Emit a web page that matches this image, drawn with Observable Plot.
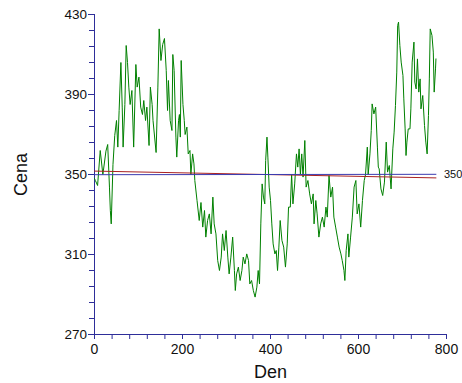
<!DOCTYPE html>
<html><head><meta charset="utf-8">
<script src="https://cdn.jsdelivr.net/npm/d3@7"></script>
<script src="https://cdn.jsdelivr.net/npm/@observablehq/plot@0.6"></script>
<style>body{margin:0;background:#fff}</style>
</head><body><div id="chart"></div>
<script>
const days = [0,2,7,13,19,26,30,34,36,38,42,46,50,53,56,60,63,65,69,72,75,78,81,85,89,94,97,101,105,109,112,116,119,124,127,131,133,140,144,147,151,155,159,163,166,168,172,176,178,181,185,187,191,193,195,197,201,204,206,210,213,217,219,223,226,228,233,238,242,246,250,253,257,261,265,269,272,276,280,284,288,291,295,299,303,306,310,314,318,320,323,327,331,335,338,342,346,350,353,357,361,365,369,372,375,378,381,384,387,389,392,394,397,400,403,406,410,413,416,419,422,426,430,434,438,441,445,448,451,455,459,462,465,468,471,474,478,481,485,489,493,497,499,503,506,510,514,518,522,526,529,533,537,541,544,548,552,556,560,563,567,569,572,576,578,582,586,590,594,597,601,605,609,613,616,620,622,626,629,631,635,639,643,645,647,651,655,659,663,666,670,674,678,681,684,687,689,691,694,697,701,703,706,708,710,713,717,719,722,726,728,731,734,737,740,742,746,750,753,756,759,761,763,767,770,772,775,776];
const prices = [348,347,344.5,362,350,361.7,365,343.7,332,325.3,355,369.5,377,363.7,382,406,383.7,363.7,385,414.5,406,393.7,385,392,363.7,405,393.7,398.7,383.7,380,387,377,383.7,364.5,393.7,385,377,361,393.7,422.8,407,415,418,402,382,397,377,372,410,402,368.7,358.7,377,380,368.7,407,385,377,370,373.7,360.3,362,350,360.3,355.3,347,337,327,336,323.7,332,318.7,327,330.3,320.3,338.7,325.3,320.3,307,302,308.7,320.3,312,322,308.7,300.3,308.7,318.7,302,292,300.3,303.7,297,302,308.7,305.3,310.3,307,295.3,297,292,288.7,293.7,302,295.3,325.3,345.3,338.7,335.3,357,368.7,358.7,343.7,337,325.3,315.3,310.3,312,302,313.7,327,317,313.7,303.7,315.3,333.7,333.7,350,335.3,345.3,360.3,353.7,362.8,350,360.3,348.7,367,343.7,347,340.3,335.3,340.3,325.3,337,330.3,318.7,325.3,328.7,323.7,333.7,328.7,349.5,338.7,343.7,328.7,323.7,318.7,313.7,310.3,307,302,297,312,320.3,308.7,318.7,328.7,343.7,347,330.3,335.3,323.7,337,347,350,363.7,350,360.3,372,385.3,380.3,383.7,363.7,353.7,352.8,342.8,339.5,346.2,366.2,351.2,354.5,342.8,362.8,371.2,384.5,401.2,424.5,426.2,414.5,406.2,399.5,387.8,372.8,359.5,366.2,372.8,372.8,382.8,406.2,416.2,396.2,392.8,407.8,391.2,397.8,382.8,389.5,374.5,366.2,360.3,379.5,397.8,422.8,419.5,411.2,391.2,402.8,407.8];
const trendDays = [0, 776];
const redTrend = [351.7, 348.3];
const blueTrend = [349.9, 350.1];
const xDomain = [0, 800];
const yDomain = [270, 430];
const xMajorTicks = [0, 200, 400, 600, 800];
const xMinorTicks = [0,40,80,120,160,200,240,280,320,360,400,440,480,520,560,600,640,680,720,760,800];
const yMajorTicks = [270, 310, 350, 390, 430];
const yMinorTicks = [270,278,286,294,302,310,318,326,334,342,350,358,366,374,382,390,398,406,414,422,430];
const xTitle = ["Den"];
const yTitle = ["Cena"];

const axisColor = "#2e2e99";
const series = days.map((d, i) => ({day: d, price: prices[i]}));
const red = trendDays.map((d, i) => ({day: d, price: redTrend[i]}));
const blue = trendDays.map((d, i) => ({day: d, price: blueTrend[i]}));

const chart = Plot.plot({
  width: 462, height: 383,
  marginLeft: 94, marginRight: 16, marginTop: 14, marginBottom: 49,
  style: {fontFamily: "'Liberation Sans', Arial, sans-serif", fontSize: "13.5px", color: "#111", background: "#fff"},
  x: {domain: xDomain},
  y: {domain: yDomain},
  marks: [
    Plot.axisY(yMinorTicks, {tickSize: 5, tickFormat: () => "", stroke: axisColor, label: null}),
    Plot.axisY(yMajorTicks, {tickSize: 6, tickPadding: 1.5, stroke: axisColor, fill: "#111", label: null}),
    Plot.axisX(xMinorTicks, {tickSize: 5, tickFormat: () => "", stroke: axisColor, label: null}),
    Plot.axisX(xMajorTicks, {tickSize: 5, tickPadding: 5, stroke: axisColor, fill: "#111", label: null, fontSize: 14}),
    Plot.ruleX(xDomain.slice(0, 1), {stroke: axisColor}),
    Plot.ruleY(yDomain.slice(0, 1), {stroke: axisColor}),
    Plot.line(series, {x: "day", y: "price", stroke: "#008000", strokeWidth: 1}),
    Plot.line(red, {x: "day", y: "price", stroke: "#aa2222", strokeWidth: 1}),
    Plot.line(blue, {x: "day", y: "price", stroke: "#3b3bb0", strokeWidth: 1}),
    Plot.text(blue.slice(-1), {x: "day", y: "price", text: d => d3.format(".0f")(d.price), dx: 8, textAnchor: "start", fontSize: 11, fill: "#111"}),
    Plot.text(xTitle, {text: d => d, frameAnchor: "bottom", dy: 38, textAnchor: "middle", lineAnchor: "middle", fontSize: 18, fill: "#111"}),
    Plot.text(yTitle, {text: d => d, frameAnchor: "left", dx: -73, rotate: -90, textAnchor: "middle", lineAnchor: "middle", fontSize: 18, fill: "#111"})
  ]
});
document.getElementById("chart").appendChild(chart);
</script>
</body></html>
